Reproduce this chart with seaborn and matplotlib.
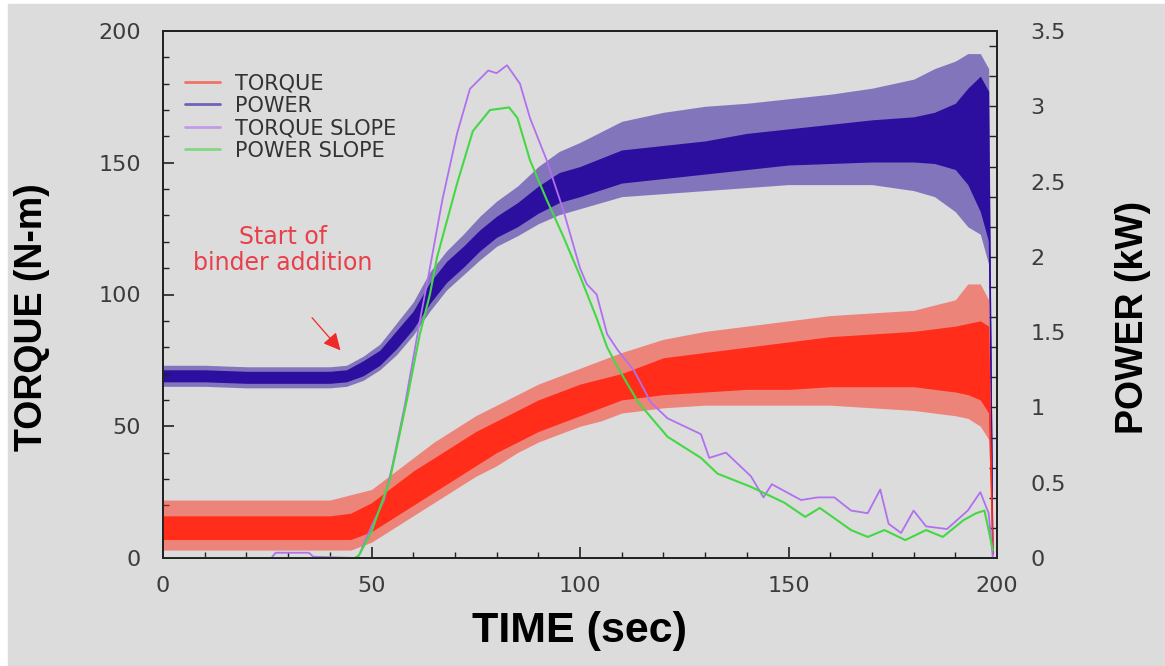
# torque / power trace of a mixer run, redrawn from a scanned figure
import numpy as np
import pandas as pd
import seaborn as sns
from matplotlib import pyplot as plt
from matplotlib.lines import Line2D
from matplotlib.patches import Rectangle
from matplotlib.ticker import FixedLocator, MultipleLocator

# --- data ------------------------------------------------------------------
# torque (N-m): noisy band -> core envelope (lo/hi) and spike envelope (min/max)
torque_t = [0, 10, 20, 30, 40, 45, 50, 55, 60, 65, 70, 75, 80, 85, 90, 95, 100,
            105, 110, 120, 130, 140, 150, 160, 170, 180, 185, 190, 193, 196, 198, 199]
torque_lo = [7, 7, 7, 7, 7, 7, 10, 15, 20, 25, 30, 35, 40, 44, 48, 51, 54,
             57, 60, 62, 63, 64, 64, 65, 65, 65, 64, 63, 62, 60, 55, 0]
torque_hi = [16, 16, 16, 16, 16, 17, 21, 27, 33, 38, 43, 48, 52, 56, 60, 63, 66,
             68, 70, 76, 78, 80, 82, 84, 85, 86, 87, 88, 89, 90, 88, 2]
torque_min = [3, 3, 3, 3, 3, 3, 6, 11, 16, 21, 26, 31, 35, 40, 44, 47, 50,
              52, 55, 57, 58, 58, 58, 58, 57, 56, 55, 54, 53, 50, 45, 0]
torque_max = [22, 22, 22, 22, 22, 24, 26, 32, 38, 44, 49, 54, 58, 62, 66, 69, 72,
              75, 78, 83, 86, 88, 90, 92, 93, 94, 96, 98, 104, 104, 98, 2]

# power (kW)
power_t = [0, 10, 20, 30, 40, 44, 48, 52, 56, 60, 64, 68, 72, 76, 80, 85, 90, 95,
           100, 110, 120, 130, 140, 150, 160, 170, 180, 185, 190, 193, 196, 198, 199]
power_lo = [1.17, 1.17, 1.16, 1.16, 1.16, 1.17, 1.21, 1.28, 1.39, 1.52, 1.69, 1.83,
            1.93, 2.04, 2.13, 2.20, 2.29, 2.36, 2.40, 2.49, 2.52, 2.55, 2.58, 2.61,
            2.62, 2.63, 2.63, 2.62, 2.58, 2.48, 2.30, 2.10, 0.00]
power_hi = [1.25, 1.25, 1.24, 1.24, 1.24, 1.25, 1.31, 1.38, 1.51, 1.64, 1.83, 1.97,
            2.07, 2.18, 2.27, 2.36, 2.47, 2.56, 2.60, 2.71, 2.74, 2.77, 2.82, 2.85,
            2.88, 2.91, 2.93, 2.96, 3.02, 3.12, 3.20, 3.10, 0.05]
power_min = [1.14, 1.14, 1.13, 1.13, 1.13, 1.14, 1.18, 1.25, 1.35, 1.48, 1.64, 1.78,
             1.88, 1.98, 2.07, 2.14, 2.22, 2.28, 2.32, 2.40, 2.42, 2.44, 2.46, 2.48,
             2.48, 2.48, 2.44, 2.40, 2.30, 2.20, 2.15, 1.95, 0.00]
power_max = [1.28, 1.28, 1.27, 1.27, 1.27, 1.28, 1.34, 1.42, 1.56, 1.70, 1.90, 2.04,
             2.15, 2.27, 2.37, 2.47, 2.60, 2.70, 2.76, 2.90, 2.96, 3.00, 3.02, 3.05,
             3.08, 3.12, 3.18, 3.25, 3.30, 3.35, 3.35, 3.25, 0.05]

# slopes (drawn against the left scale)
tslope_t = [0, 26, 27, 35, 36, 46, 47, 50, 53, 55, 58, 61.6, 64, 67, 70.5, 73.6, 78,
            80, 82.5, 85.6, 88, 92, 96, 100, 101.6, 104, 106.5, 109, 113, 117, 121,
            129, 131, 135, 141, 144, 146, 153, 157, 161, 165, 169, 172, 174, 177,
            180, 183, 188, 193, 196, 198, 199]
tslope_v = [0, 0, 2, 2, 0.5, 0, 1, 12, 22, 35, 58, 90, 110, 136, 161, 178, 185,
            184, 187, 180, 167, 151, 132, 110, 104, 100, 85, 79, 71, 59, 53,
            47, 38, 40, 31, 23, 28, 22, 23, 23, 18, 17, 26, 13, 9.5,
            18, 12, 11, 18, 25, 17, 0]

pslope_t = [0, 46, 47, 50, 54.4, 58.5, 61.6, 64, 65.7, 70.5, 74.3, 78.4, 83, 85,
            88, 92, 96, 100, 104, 106.5, 109, 114, 121, 129, 133, 141, 149, 154,
            157.5, 165, 169, 173, 178, 183, 187, 192, 195, 197, 199]
pslope_v = [0, 0, 1, 10, 29.6, 60, 85, 100, 114, 142, 162, 170, 171, 167,
            151, 136, 122, 107, 91, 80, 72.5, 59, 46, 38, 32, 27, 21, 15.6,
            19, 10.6, 8, 10.6, 6.8, 10.6, 8, 14.4, 17, 18, 3]

legend_labels = ['TORQUE', 'POWER', 'TORQUE SLOPE', 'POWER SLOPE']

# --- styling -----------------------------------------------------------------
BG = '#dcdcdc'
C_TORQUE = '#ff2d1a'
C_POWER = '#2c0f9e'
C_TSLOPE = '#b070f0'
C_PSLOPE = '#44d844'
TICK_C = '#3c3c3c'

sns.set_style('ticks')
plt.rcParams['font.family'] = ['DejaVu Sans']

fig = plt.figure(figsize=(11.65, 6.66), dpi=100)
fig.patch.set_facecolor('white')
fig.add_artist(Rectangle((8 / 1165, 0), 1, 1 - 4 / 666, transform=fig.transFigure,
                         color=BG, zorder=-10))

ax1 = fig.add_axes([163 / 1165, 108 / 666, 834 / 1165, 527 / 666])
ax2 = ax1.twinx()
ax2.set_zorder(0)
ax1.set_zorder(1)
ax1.patch.set_visible(False)
ax2.patch.set_facecolor(BG)


def band(t, lo, hi):
    # two observations per time stamp -> seaborn 100% interval spans lo..hi
    return pd.DataFrame({'t': list(t) + list(t), 'v': list(lo) + list(hi)})


# power on the right scale
ax2.fill_between(power_t, power_min, power_max, color=C_POWER, alpha=0.5, lw=0)
sns.lineplot(data=band(power_t, power_lo, power_hi), x='t', y='v',
             estimator='mean', errorbar=('pi', 100), color=C_POWER, linewidth=1,
             err_kws={'alpha': 1, 'linewidth': 0}, ax=ax2, legend=False)

# torque + slopes on the left scale
ax1.fill_between(torque_t, torque_min, torque_max, color=C_TORQUE, alpha=0.5, lw=0)
sns.lineplot(data=band(torque_t, torque_lo, torque_hi), x='t', y='v',
             estimator='mean', errorbar=('pi', 100), color=C_TORQUE, linewidth=1,
             err_kws={'alpha': 1, 'linewidth': 0}, ax=ax1, legend=False)
sns.lineplot(x=tslope_t, y=tslope_v, color=C_TSLOPE, linewidth=1.3, ax=ax1,
             estimator=None, sort=False)
sns.lineplot(x=pslope_t, y=pslope_v, color=C_PSLOPE, linewidth=1.5, ax=ax1,
             estimator=None, sort=False)

# axes limits / ticks
ax1.set_xlim(0, 200)
ax1.set_ylim(0, 200)
ax2.set_ylim(0, 3.5)

ax1.xaxis.set_major_locator(MultipleLocator(50))
ax1.xaxis.set_minor_locator(MultipleLocator(10))
ax1.yaxis.set_major_locator(MultipleLocator(50))
ax1.yaxis.set_minor_locator(MultipleLocator(10))
ax1.tick_params(which='both', direction='in', top=False, right=False,
                colors='#222222', labelcolor=TICK_C, labelsize=16)
ax1.tick_params(which='major', length=8, width=1.2)
ax1.tick_params(which='minor', length=4.5, width=1.0)
ax1.tick_params(axis='y', pad=16)
ax1.tick_params(axis='x', pad=13)

ax2.yaxis.set_major_locator(MultipleLocator(0.5))
ax2.yaxis.set_minor_locator(FixedLocator([0.2 * k for k in range(1, 18)]))
ax2.yaxis.remove_overlapping_locs = False
ax2.tick_params(which='major', direction='in', length=0, pad=24,
                labelcolor=TICK_C, labelsize=16)
ax2.tick_params(which='minor', direction='in', length=6, width=1.0, color='#222222')
ax2.yaxis.set_major_formatter(lambda v, p: f'{v:g}')

for a in (ax1, ax2):
    for s in a.spines.values():
        s.set_color('#222222')
        s.set_linewidth(1.3)

lab = dict(family='Liberation Sans', weight='bold', color='black')
ax1.set_xlabel('TIME (sec)', fontsize=31, **lab)
ax1.set_ylabel('TORQUE (N-m)', fontsize=27, **lab)
ax2.set_ylabel('POWER (kW)', fontsize=27, rotation=90, **lab)
ax1.xaxis.set_label_coords(0.5, -0.10)
ax1.yaxis.set_label_coords(-0.136, 0.457)
ax2.yaxis.set_label_coords(1.142, 0.457)

# annotation
ax1.text(28.8, 116.9, 'Start of\nbinder addition', ha='center', va='center',
         color='#e8404a', fontsize=17, linespacing=1.1)
ax1.annotate('', xy=(43, 78), xytext=(35.3, 92),
             arrowprops=dict(arrowstyle='-|>', color='#f02a2a', lw=0.9,
                             mutation_scale=26))

# legend
handles = [Line2D([], [], color=c, lw=2, alpha=0.6)
           for c in (C_TORQUE, C_POWER, C_TSLOPE, C_PSLOPE)]
ax1.legend(handles, legend_labels, loc='upper left', bbox_to_anchor=(0.026, 0.92),
           frameon=False, fontsize=15, handlelength=1.7, handletextpad=0.7,
           labelspacing=0.12, borderpad=0, borderaxespad=0, labelcolor='#333333')

fig.savefig('out.png', dpi=100, facecolor=fig.get_facecolor())
